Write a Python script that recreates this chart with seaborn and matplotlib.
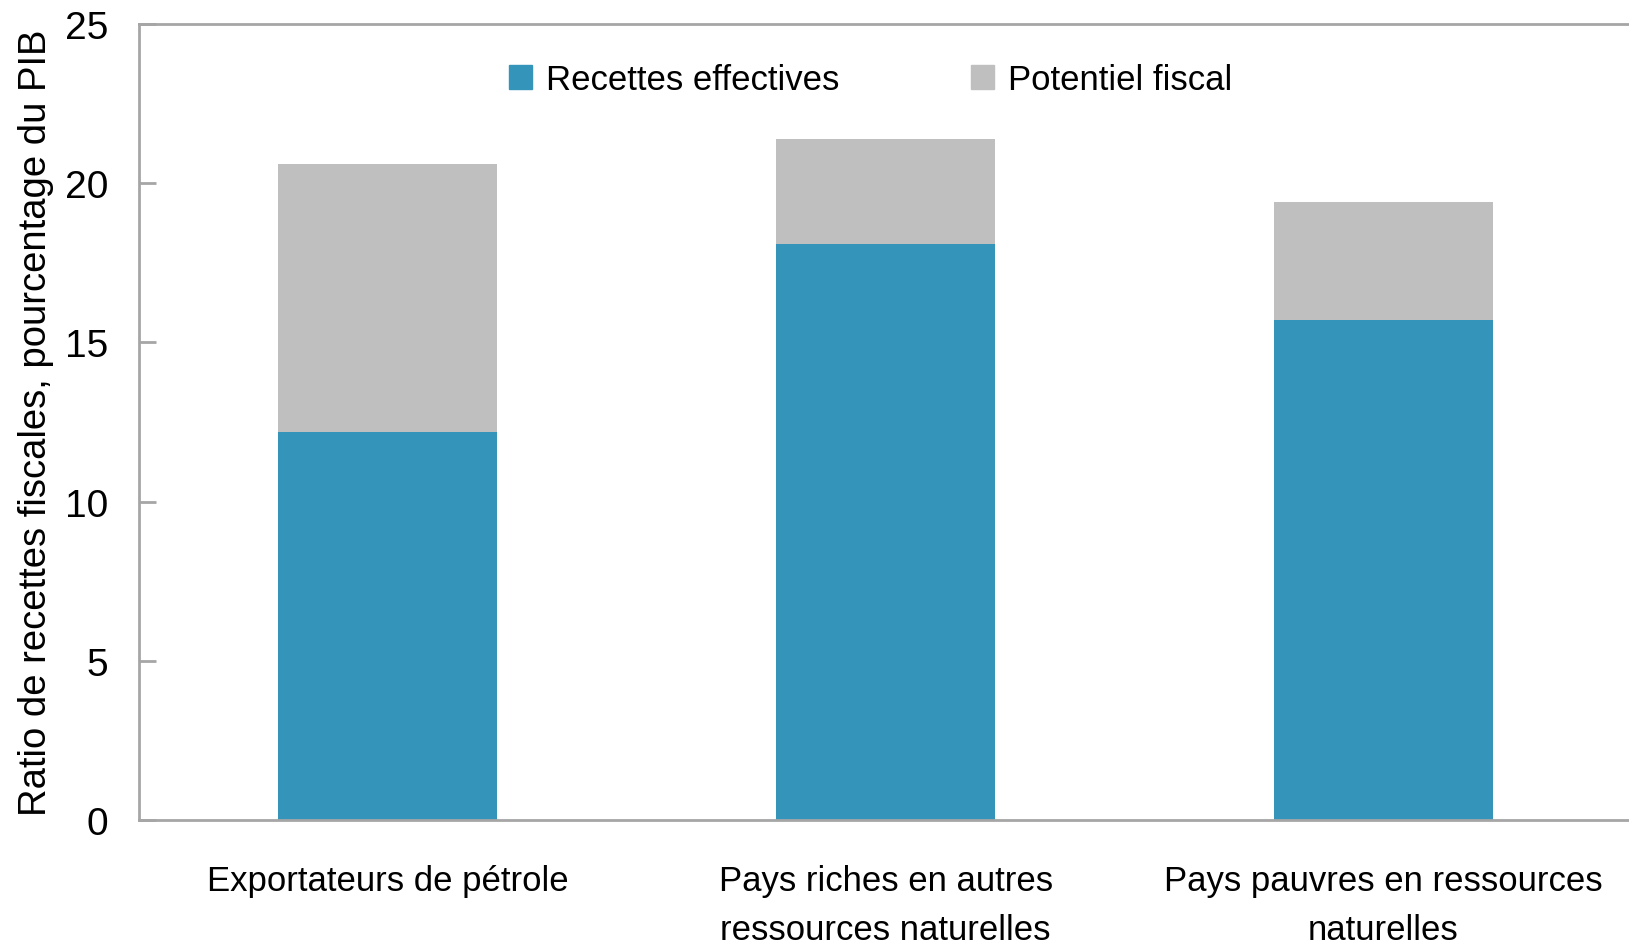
import matplotlib
matplotlib.use("Agg")
import matplotlib.pyplot as plt
import seaborn as sns
from matplotlib.patches import Patch
from matplotlib import font_manager

categories = ["Exportateurs de pétrole",
              "Pays riches en autres\nressources naturelles",
              "Pays pauvres en ressources\nnaturelles"]
recettes = [12.2, 18.1, 15.7]
potentiel = [20.6, 21.4, 19.4]

blue = "#3594BA"
grey = "#BFBFBF"
spine_col = "#A6A6A6"

sns.set_theme(style="white")
names = {f.name for f in font_manager.fontManager.ttflist}
fam = "Liberation Sans Narrow" if "Liberation Sans Narrow" in names else "Liberation Sans"
plt.rcParams["font.family"] = [fam, "DejaVu Sans"]
plt.rcParams["text.color"] = "black"
plt.rcParams["axes.labelcolor"] = "black"
plt.rcParams["xtick.color"] = "black"
plt.rcParams["ytick.color"] = "black"

fig = plt.figure(figsize=(16.29, 9.53), dpi=100)
ax = fig.add_axes([0.0853, 0.1385, 0.9167, 0.8353])

sns.barplot(x=categories, y=potentiel, color=grey, width=0.44, ax=ax,
            saturation=1, linewidth=0)
sns.barplot(x=categories, y=recettes, color=blue, width=0.44, ax=ax,
            saturation=1, linewidth=0)

ax.set_xlim(-0.5, 2.5)
ax.set_ylim(0, 25)
ax.set_yticks([0, 5, 10, 15, 20, 25])
ax.set_ylabel("Ratio de recettes fiscales, pourcentage du PIB", fontsize=27.5, labelpad=8)
ax.tick_params(axis="y", direction="in", length=12, width=2, color=spine_col,
               labelsize=28, pad=22, left=True, labelcolor="black")
ax.tick_params(axis="x", length=0, labelsize=25, pad=32, labelcolor="black")
for lbl in ax.get_xticklabels():
    lbl.set_linespacing(1.6)
for side in ["left", "top", "bottom", "right"]:
    ax.spines[side].set_color(spine_col)
    ax.spines[side].set_linewidth(2)

handles = [Patch(color=blue, label="Recettes effectives"),
           Patch(color=grey, label="Potentiel fiscal")]
ax.legend(handles=handles, loc="upper center", bbox_to_anchor=(0.49, 0.99), ncol=2,
          frameon=False, fontsize=25, handlelength=0.65, handleheight=0.65,
          handletextpad=0.4, columnspacing=3.8)

fig.savefig("out.png", dpi=100)
